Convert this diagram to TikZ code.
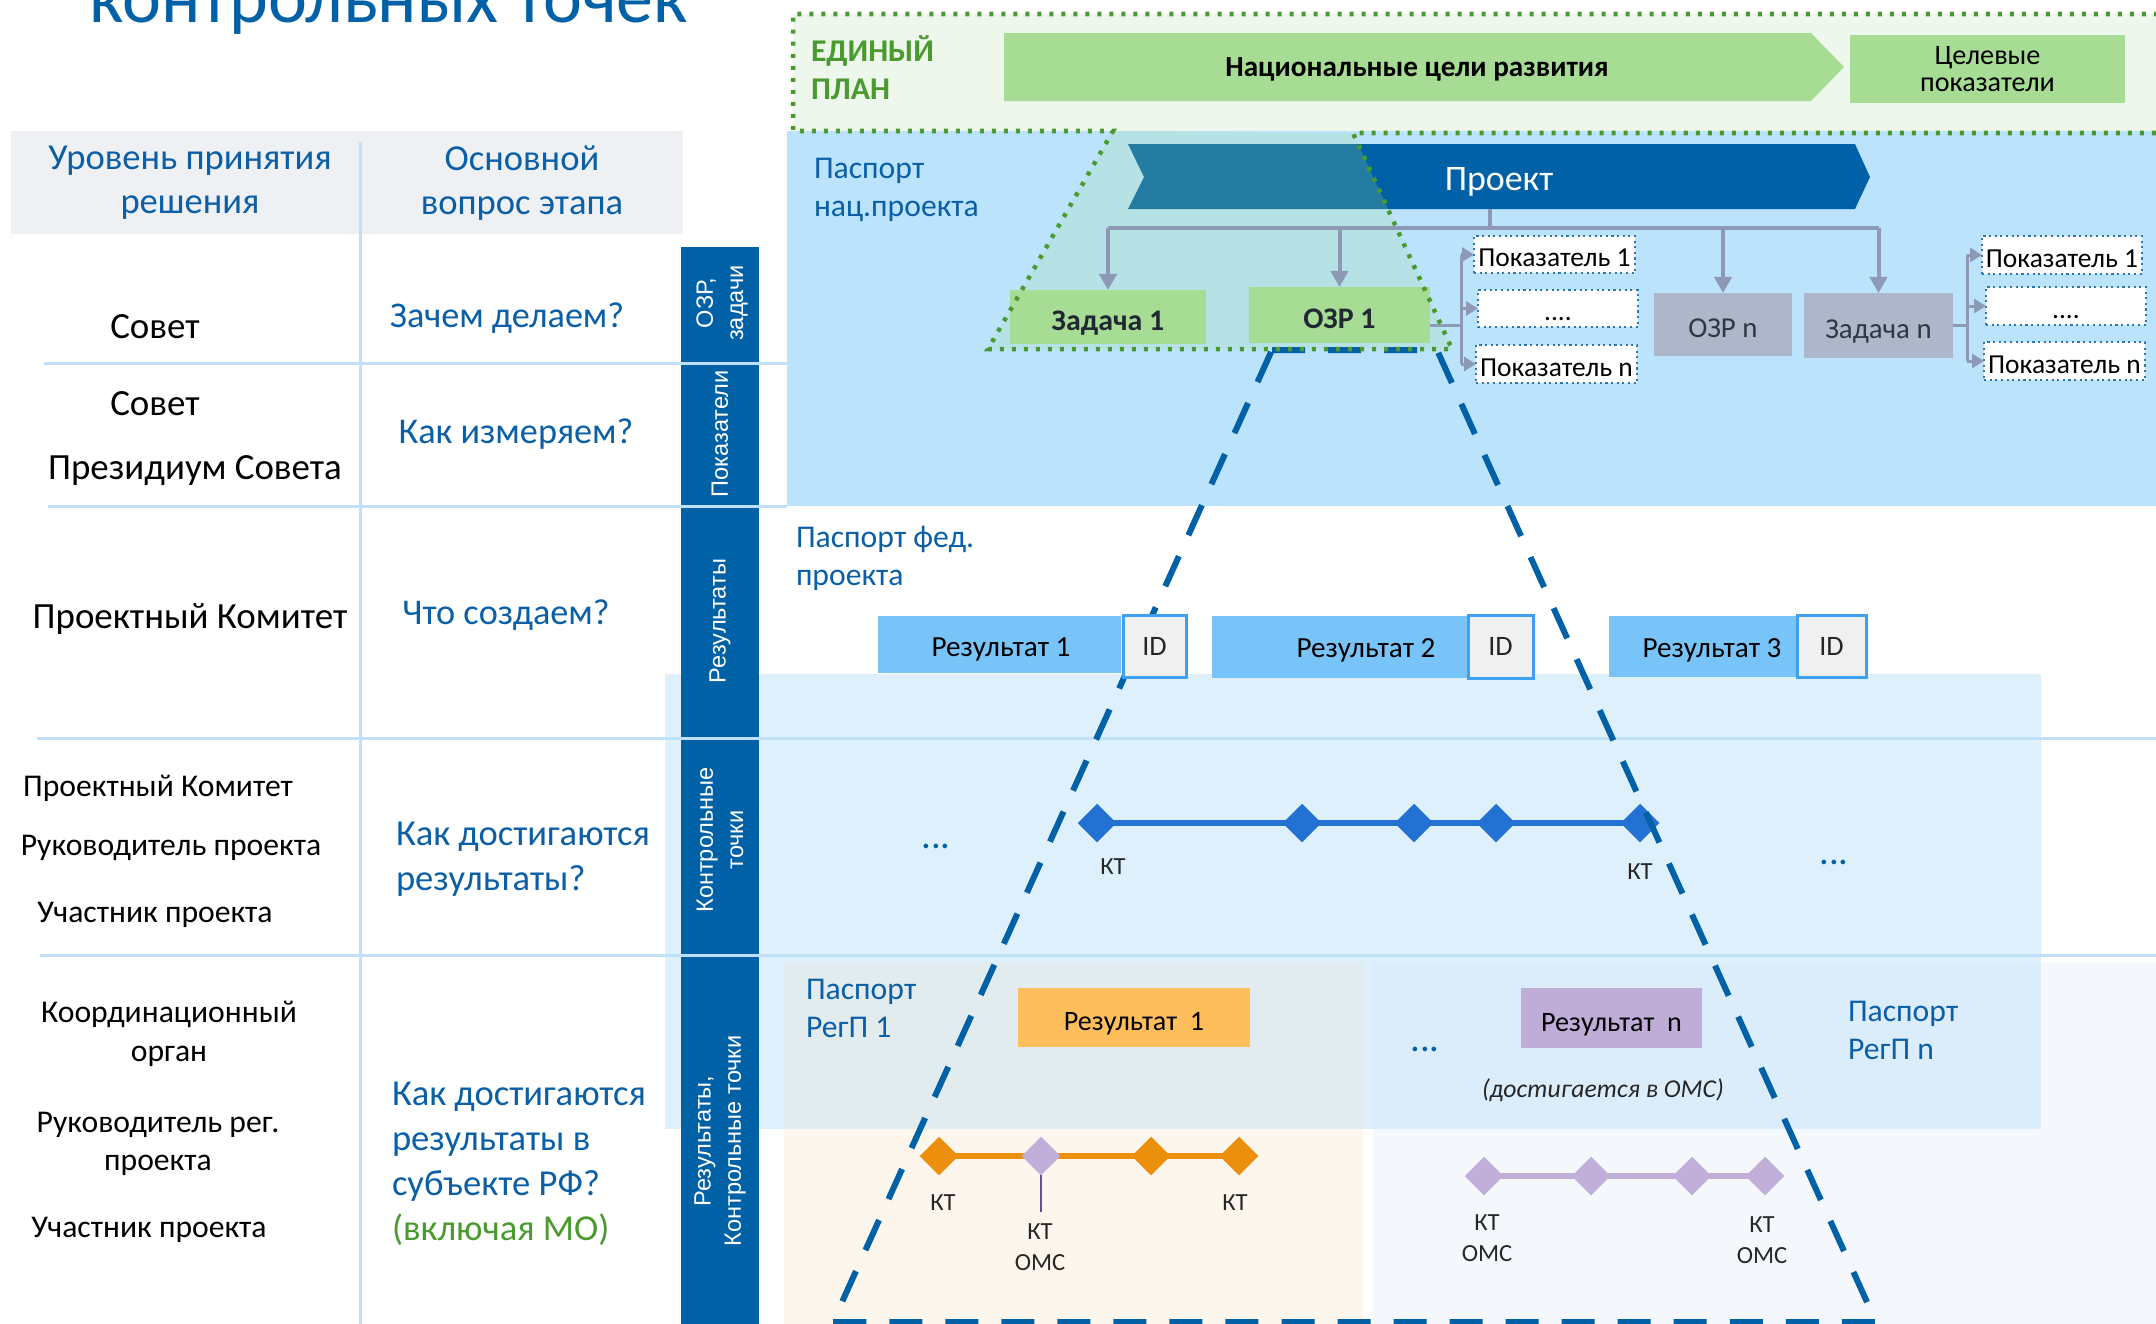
\documentclass[tikz,border=0pt]{standalone}
\usepackage{fontspec}
\setmainfont{Carlito}
\newfontfamily\barfont{Liberation Sans}
\usetikzlibrary{shapes.geometric,arrows.meta}
\definecolor{darkblue}{HTML}{0061A7}
\definecolor{qblue}{HTML}{0B5FA6}
\definecolor{sepcol}{HTML}{C0E0F8}
\definecolor{headgray}{HTML}{EFF0F4}
\definecolor{natblue}{HTML}{BBE3FC}
\definecolor{egreen}{HTML}{A6DC94}
\definecolor{dotgreen}{HTML}{4A9A30}
\definecolor{ebg}{HTML}{EEF7EB}
\definecolor{graybox}{HTML}{AEB6C9}
\definecolor{graytext}{HTML}{2F3645}
\definecolor{boxtext}{HTML}{222833}
\definecolor{treegray}{HTML}{8E9AB5}
\definecolor{resblue}{HTML}{78C4F9}
\definecolor{idfill}{HTML}{F0F0F0}
\definecolor{idborder}{HTML}{3DA0F0}
\definecolor{indborder}{HTML}{2E75B6}
\definecolor{ctband}{HTML}{DFF0FD}
\definecolor{ktblue}{HTML}{2371D2}
\definecolor{ktorange}{HTML}{EC8F0C}
\definecolor{resorange}{HTML}{FFBE5C}
\definecolor{respurple}{HTML}{BFADD8}
\definecolor{ktpurple}{HTML}{C1AED9}
\definecolor{omsline}{HTML}{6A4C9C}
\definecolor{reg1top}{HTML}{E2ECEF}
\definecolor{reg1bot}{HTML}{FDF6EC}
\definecolor{regnbg}{HTML}{F4F8FD}
\definecolor{regntop}{HTML}{DBECFB}
\definecolor{mogreen}{HTML}{4A9A30}
\newcommand\myfs[2]{\fontsize{#1}{#2}\selectfont}
\newcommand\mybox[7]{\node[#6, minimum width={(#4-#2)*0.01cm}, minimum height={(#5-#3)*0.01cm}] (#1) at ({(#2+#4)/2},{(#3+#5)/2}) {#7};}
\begin{document}
\begin{tikzpicture}[x=0.01cm,y=-0.01cm,
 every node/.style={inner sep=0pt, outer sep=0pt},
 blk/.style={align=center, text=black, font=\myfs{10.5}{12.6}},
 blks/.style={align=center, text=black, font=\myfs{9}{11}},
 qtxt/.style={align=center, text=qblue, font=\myfs{10.3}{12.6}},
 qleft/.style={align=left, anchor=west, text=qblue, font=\myfs{10.4}{12.8}},
 bartxt/.style={align=center, text=white, rotate=90, font=\barfont\myfs{6.7}{8.6}},
 pass/.style={align=left, anchor=west, text=qblue, font=\myfs{9}{10.8}},
 gbox/.style={fill=egreen, font=\bfseries\myfs{8.5}{10}, text=boxtext, text height=0.74em, text depth=0pt},
 grbox/.style={fill=graybox, font=\myfs{8.2}{10}, text=graytext, text height=0.74em, text depth=0pt},
 ind/.style={fill=white, draw=indborder, densely dotted, line width=0.6pt, font=\myfs{7.8}{9.4}, text=black, text height=0.7em, text depth=0pt},
 resb/.style={fill=resblue},
 restxt/.style={font=\myfs{8.3}{10}, text=black},
 regbox/.style={font=\myfs{8}{9.6}, text=black, text height=0.74em, text depth=0pt},
 idb/.style={fill=idfill, draw=idborder, line width=0.03cm, font=\myfs{8}{9.6}, text=black!85},
 sepl/.style={draw=sepcol, line width=0.03cm},
 treel/.style={draw=treegray, line width=0.04cm},
 tarrow/.style={treel, -{Triangle[width=0.17cm,length=0.16cm]}},
 brl/.style={draw=treegray, line width=0.03cm},
 iarrow/.style={brl, -{Triangle[width=0.14cm,length=0.12cm]}},
 dia/.style={diamond, minimum width=0.385cm, minimum height=0.385cm},
 kt/.style={font=\myfs{7}{8.8}, text=black!85, align=center},
 dotsty/.style={font=\myfs{11}{12}, text=darkblue},
 bigdash/.style={draw=darkblue, line width=0.06cm, dash pattern=on 0.33cm off 0.23cm},
 gdot/.style={draw=dotgreen, line width=0.045cm, dash pattern=on 0.04cm off 0.08cm}
]
\fill[white] (0,0) rectangle (2156,1324);
\useasboundingbox (0,0) rectangle (2156,1324);

% title (cut by the page edge, as in the reference)
\node[anchor=base west, text=darkblue, font=\myfs{21}{24}] (title) at (89,22) {контрольных точек};

% background areas
\fill[headgray] (11,131) rectangle (683,234);
\fill[ebg] (793,14) rectangle (2156,131);
\fill[natblue] (787,131) rectangle (2156,506);
\fill[ctband] (665,674) rectangle (2041,1129);
\fill[reg1top] (784,963) rectangle (1363,1129);
\fill[reg1bot] (784,1129) rectangle (1363,1324);
\fill[regnbg] (1373,963) rectangle (2156,1324);
\fill[regntop] (1373,963) rectangle (2041,1129);

% stage bar
\fill[darkblue] (681,247) rectangle (759,1324);

% table rules
\draw[sepl] (360,142) -- (360,1324);
\draw[sepl] (44,363) -- (787,363);
\draw[sepl] (48,506) -- (787,506);
\draw[sepl] (37,738) -- (2156,738);
\draw[sepl] (40,955) -- (2156,955);

% header
\node[qtxt, font=\myfs{10.4}{12.5}] (h1) at (190,183) {Уровень принятия\\решения};
\node[qtxt, font=\myfs{10.4}{12.5}] (h2) at (522,183) {Основной\\вопрос этапа};

% bar labels
\node[bartxt] (b1) at (722,303) {ОЗР,\\задачи};
\node[bartxt] (b2) at (720,434) {Показатели};
\node[bartxt] (b3) at (720,621) {Результаты};
\node[bartxt] (b4) at (720,840) {Контрольные\\точки};
\node[bartxt] (b5) at (720,1141) {Результаты,\\Контрольные точки};

% left column
\node[blk] (l1) at (155,327) {Совет};
\node[blk] (l2) at (155,404) {Совет};
\node[blk] (l3) at (195,471) {Президиум Совета};
\node[blk] (l4) at (190,619) {Проектный Комитет};
\node[blks] (l5) at (158,788) {Проектный Комитет};
\node[blks] (l6) at (171,848) {Руководитель проекта};
\node[blks] (l7) at (155,915) {Участник проекта};
\node[blks] (l8) at (169,1034) {Координационный\\орган};
\node[blks] (l9) at (158,1144) {Руководитель рег.\\проекта};
\node[blks] (l10) at (149,1230) {Участник проекта};

% middle column
\node[qtxt] (q1) at (507,318) {Зачем делаем?};
\node[qtxt] (q2) at (516,434) {Как измеряем?};
\node[qtxt] (q3) at (506,615) {Что создаем?};
\node[qleft] (q4) at (396,859) {Как достигаются\\результаты?};
\node[qleft] (q5) at (392,1164) {Как достигаются\\результаты в\\субъекте РФ?\\\textcolor{mogreen}{(включая МО)}};

% unified plan
\node[anchor=west, align=left, text=mogreen, font=\bfseries\myfs{9}{10.8}] (ep) at (811,68) {ЕДИНЫЙ\\ПЛАН};
\fill[egreen] (1004,33) -- (1811,33) -- (1844,67) -- (1811,101) -- (1004,101) -- cycle;
\node[font=\bfseries\myfs{8.3}{10}, text=black] (ng) at (1417,69) {Национальные цели развития};
\mybox{tgt}{1850}{35}{2125}{103}{fill=egreen, align=center, font=\myfs{8}{7.7}, text=black}{Целевые\\показатели}

% national project passport
\node[pass] (pnp) at (814,190) {Паспорт\\нац.проекта};
\fill[darkblue] (1128,144) -- (1855,144) -- (1870,177) -- (1855,209) -- (1128,209) -- (1144,177) -- cycle;
\node[text=white, font=\myfs{10.2}{12}] (proj) at (1499,182) {Проект};
\coordinate (stemtop) at (1490,209);
\fill[egreen, opacity=0.22] (1113,131) -- (988,349) -- (1452,349) -- (1353,133) -- cycle;

\mybox{z1}{1010}{290}{1206}{344}{gbox}{Задача 1}
\mybox{ozr1}{1249}{287}{1430}{343}{gbox}{ОЗР 1}
\mybox{ozrn}{1654}{293}{1792}{356}{grbox}{ОЗР n}
\mybox{zn}{1804}{293}{1953}{358}{grbox}{Задача n}

\coordinate (barL) at (1108,228);
\draw[treel] (stemtop) -- (stemtop |- barL);
\draw[treel] (z1.north |- barL) -- (zn.north |- barL);
\draw[tarrow] (z1.north |- barL) -- (z1.north);
\draw[tarrow] (ozr1.north |- barL) -- (ozr1.north);
\draw[tarrow] (ozrn.north |- barL) -- (ozrn.north);
\draw[tarrow] (zn.north |- barL) -- (zn.north);

\mybox{pa1}{1474}{236}{1635}{273}{ind}{Показатель 1}
\mybox{pa2}{1478}{290}{1638}{327}{ind}{....}
\mybox{pa3}{1476}{345}{1637}{383}{ind}{Показатель n}
\mybox{pb1}{1982}{236}{2142}{274}{ind}{Показатель 1}
\mybox{pb2}{1986}{287}{2146}{325}{ind}{....}
\mybox{pb3}{1984}{342}{2145}{380}{ind}{Показатель n}

\coordinate (ja) at (1461,325);
\draw[brl] (ozr1.east |- ja) -- (ja);
\draw[brl] (ja |- pa1.west) -- (ja |- pa3.west);
\draw[iarrow] (ja |- pa1.west) -- (pa1.west);
\draw[iarrow] (ja |- pa2.west) -- (pa2.west);
\draw[iarrow] (ja |- pa3.west) -- (pa3.west);
\coordinate (jb) at (1967,325);
\draw[brl] (zn.east |- jb) -- (jb);
\draw[brl] (jb |- pb1.west) -- (jb |- pb3.west);
\draw[iarrow] (jb |- pb1.west) -- (pb1.west);
\draw[iarrow] (jb |- pb2.west) -- (pb2.west);
\draw[iarrow] (jb |- pb3.west) -- (pb3.west);

% federal project
\node[pass] (pfp) at (796,558) {Паспорт фед.\\проекта};

% control points (federal)
\node[dia, fill=ktblue] (kb1) at (1097,823) {};
\node[dia, fill=ktblue] (kb2) at (1302,823) {};
\node[dia, fill=ktblue] (kb3) at (1414,823) {};
\node[dia, fill=ktblue] (kb4) at (1496,823) {};
\node[dia, fill=ktblue] (kb5) at (1640,823) {};
\draw[ktblue, line width=0.06cm] (kb1.center) -- (kb5.center);
\node[kt] (kbl1) at (1113,867) {КТ};
\node[kt] (kbl5) at (1640,872) {КТ};
\node[dotsty] (d1) at (936,846) {...};
\node[dotsty] (d2) at (1834,862) {...};

% regional projects
\node[pass] (pr1) at (806,1008) {Паспорт\\РегП 1};
\node[pass] (prn) at (1848,1030) {Паспорт\\РегП n};
\mybox{ro}{1018}{988}{1250}{1047}{regbox, fill=resorange}{Результат\ \ 1}
\mybox{rp}{1521}{988}{1702}{1048}{regbox, fill=respurple}{Результат\ \ n}
\node[dotsty] (d3) at (1425,1049) {...};
\node[font=\itshape\myfs{7.3}{9}, text=black!85] (oms) at (1603,1090) {(достигается в ОМС)};

\node[dia, fill=ktorange] (ko1) at (939,1156) {};
\node[dia, fill=ktorange] (ko3) at (1151,1156) {};
\node[dia, fill=ktorange] (ko4) at (1239,1156) {};
\draw[ktorange, line width=0.065cm] (ko1.center) -- (ko4.center);
\node[dia, fill=ktpurple] (ko2) at (1041,1156) {};
\coordinate (omsend) at (1041,1212);
\draw[omsline, line width=0.4pt] (ko2.south) -- (omsend);
\node[kt] (kol1) at (943,1203) {КТ};
\node[kt] (kol4) at (1235,1203) {КТ};
\node[kt] (kol2) at (1040,1247) {КТ\\ОМС};

\node[dia, fill=ktpurple] (kp1) at (1484,1176) {};
\node[dia, fill=ktpurple] (kp2) at (1591,1176) {};
\node[dia, fill=ktpurple] (kp3) at (1692,1176) {};
\node[dia, fill=ktpurple] (kp4) at (1765,1176) {};
\draw[ktpurple, line width=0.065cm] (kp1.center) -- (kp4.center);
\node[kt] (kpl1) at (1487,1238) {КТ\\ОМС};
\node[kt] (kpl4) at (1762,1240) {КТ\\ОМС};

% big dashed trapezoid
\draw[bigdash] (1272,350) -- (1437,350) -- (1876,1322) -- (833,1322) -- cycle;

% federal results (above the dashed line)
\mybox{r1}{878}{616}{1121}{673}{resb}{}
\mybox{r2}{1212}{616}{1468}{678}{resb}{}
\mybox{r3}{1609}{616}{1797}{677}{resb}{}
\node[restxt] (r1t) at (1001,649) {Результат 1};
\node[restxt] (r2t) at (1366,650) {Результат 2};
\node[restxt] (r3t) at (1712,650) {Результат 3};
\mybox{id1}{1123}{615}{1186}{677}{idb}{ID}
\mybox{id2}{1468}{615}{1533}{678}{idb}{ID}
\mybox{id3}{1797}{615}{1866}{677}{idb}{ID}

% green dotted outline of the unified plan
\draw[gdot] (2170,14) -- (793,14) -- (793,131) -- (1113,131) -- (988,349) -- (1452,349) -- (1353,133) -- (2170,133);
\end{tikzpicture}
\end{document}
